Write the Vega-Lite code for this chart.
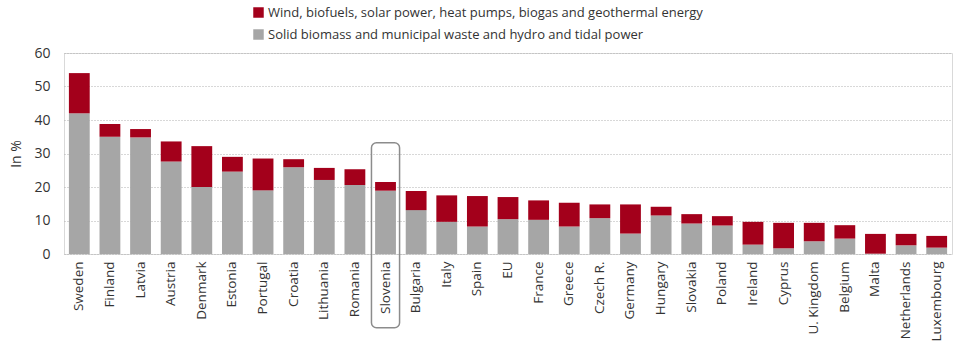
{
  "$schema": "https://vega.github.io/schema/vega-lite/v6.json",
  "width": 888,
  "height": 201,
  "autosize": {"type": "none"},
  "padding": {"left": 64, "top": 53, "right": 8, "bottom": 96},
  "background": "white",
  "config": {
    "font": "Open Sans",
    "view": {"stroke": "#d9d9d9", "strokeWidth": 1},
    "axis": {"labelFont": "Open Sans", "titleFont": "Open Sans", "labelColor": "#333333", "titleColor": "#333333", "labelFontSize": 13, "titleFontSize": 13, "titleFontWeight": "normal"},
    "axisX": {"labelAngle": -90, "ticks": false, "domain": false, "labelPadding": 7, "labelFontSize": 13.5},
    "axisY": {"labelOverlap": false, "ticks": false, "domain": false, "labelPadding": 14, "titlePadding": 10, "labelFontSize": 14, "titleFontSize": 14, "grid": true, "gridColor": "#b0b0b0", "gridDash": [1, 2], "gridWidth": 1},
    "legend": {"labelFont": "Open Sans", "labelFontSize": 13, "labelColor": "#333333", "labelLimit": 0}
  },
  "datasets": {
    "shares": [
      {"country": "Sweden", "type": "Solid biomass and municipal waste and hydro and tidal power", "value": 42.0},
      {"country": "Sweden", "type": "Wind, biofuels, solar power, heat pumps, biogas and geothermal energy", "value": 12.0},
      {"country": "Finland", "type": "Solid biomass and municipal waste and hydro and tidal power", "value": 35.0},
      {"country": "Finland", "type": "Wind, biofuels, solar power, heat pumps, biogas and geothermal energy", "value": 3.8},
      {"country": "Latvia", "type": "Solid biomass and municipal waste and hydro and tidal power", "value": 34.8},
      {"country": "Latvia", "type": "Wind, biofuels, solar power, heat pumps, biogas and geothermal energy", "value": 2.5},
      {"country": "Austria", "type": "Solid biomass and municipal waste and hydro and tidal power", "value": 27.6},
      {"country": "Austria", "type": "Wind, biofuels, solar power, heat pumps, biogas and geothermal energy", "value": 6.0},
      {"country": "Denmark", "type": "Solid biomass and municipal waste and hydro and tidal power", "value": 20.0},
      {"country": "Denmark", "type": "Wind, biofuels, solar power, heat pumps, biogas and geothermal energy", "value": 12.2},
      {"country": "Estonia", "type": "Solid biomass and municipal waste and hydro and tidal power", "value": 24.6},
      {"country": "Estonia", "type": "Wind, biofuels, solar power, heat pumps, biogas and geothermal energy", "value": 4.4},
      {"country": "Portugal", "type": "Solid biomass and municipal waste and hydro and tidal power", "value": 19.0},
      {"country": "Portugal", "type": "Wind, biofuels, solar power, heat pumps, biogas and geothermal energy", "value": 9.5},
      {"country": "Croatia", "type": "Solid biomass and municipal waste and hydro and tidal power", "value": 25.9},
      {"country": "Croatia", "type": "Wind, biofuels, solar power, heat pumps, biogas and geothermal energy", "value": 2.4},
      {"country": "Lithuania", "type": "Solid biomass and municipal waste and hydro and tidal power", "value": 22.1},
      {"country": "Lithuania", "type": "Wind, biofuels, solar power, heat pumps, biogas and geothermal energy", "value": 3.6},
      {"country": "Romania", "type": "Solid biomass and municipal waste and hydro and tidal power", "value": 20.6},
      {"country": "Romania", "type": "Wind, biofuels, solar power, heat pumps, biogas and geothermal energy", "value": 4.7},
      {"country": "Slovenia", "type": "Solid biomass and municipal waste and hydro and tidal power", "value": 18.9},
      {"country": "Slovenia", "type": "Wind, biofuels, solar power, heat pumps, biogas and geothermal energy", "value": 2.6},
      {"country": "Bulgaria", "type": "Solid biomass and municipal waste and hydro and tidal power", "value": 13.1},
      {"country": "Bulgaria", "type": "Wind, biofuels, solar power, heat pumps, biogas and geothermal energy", "value": 5.7},
      {"country": "Italy", "type": "Solid biomass and municipal waste and hydro and tidal power", "value": 9.6},
      {"country": "Italy", "type": "Wind, biofuels, solar power, heat pumps, biogas and geothermal energy", "value": 7.9},
      {"country": "Spain", "type": "Solid biomass and municipal waste and hydro and tidal power", "value": 8.2},
      {"country": "Spain", "type": "Wind, biofuels, solar power, heat pumps, biogas and geothermal energy", "value": 9.1},
      {"country": "EU", "type": "Solid biomass and municipal waste and hydro and tidal power", "value": 10.4},
      {"country": "EU", "type": "Wind, biofuels, solar power, heat pumps, biogas and geothermal energy", "value": 6.6},
      {"country": "France", "type": "Solid biomass and municipal waste and hydro and tidal power", "value": 10.2},
      {"country": "France", "type": "Wind, biofuels, solar power, heat pumps, biogas and geothermal energy", "value": 5.8},
      {"country": "Greece", "type": "Solid biomass and municipal waste and hydro and tidal power", "value": 8.2},
      {"country": "Greece", "type": "Wind, biofuels, solar power, heat pumps, biogas and geothermal energy", "value": 7.1},
      {"country": "Czech R.", "type": "Solid biomass and municipal waste and hydro and tidal power", "value": 10.7},
      {"country": "Czech R.", "type": "Wind, biofuels, solar power, heat pumps, biogas and geothermal energy", "value": 4.1},
      {"country": "Germany", "type": "Solid biomass and municipal waste and hydro and tidal power", "value": 6.1},
      {"country": "Germany", "type": "Wind, biofuels, solar power, heat pumps, biogas and geothermal energy", "value": 8.7},
      {"country": "Hungary", "type": "Solid biomass and municipal waste and hydro and tidal power", "value": 11.5},
      {"country": "Hungary", "type": "Wind, biofuels, solar power, heat pumps, biogas and geothermal energy", "value": 2.6},
      {"country": "Slovakia", "type": "Solid biomass and municipal waste and hydro and tidal power", "value": 9.1},
      {"country": "Slovakia", "type": "Wind, biofuels, solar power, heat pumps, biogas and geothermal energy", "value": 2.8},
      {"country": "Poland", "type": "Solid biomass and municipal waste and hydro and tidal power", "value": 8.5},
      {"country": "Poland", "type": "Wind, biofuels, solar power, heat pumps, biogas and geothermal energy", "value": 2.8},
      {"country": "Ireland", "type": "Solid biomass and municipal waste and hydro and tidal power", "value": 2.8},
      {"country": "Ireland", "type": "Wind, biofuels, solar power, heat pumps, biogas and geothermal energy", "value": 6.8},
      {"country": "Cyprus", "type": "Solid biomass and municipal waste and hydro and tidal power", "value": 1.7},
      {"country": "Cyprus", "type": "Wind, biofuels, solar power, heat pumps, biogas and geothermal energy", "value": 7.6},
      {"country": "U. Kingdom", "type": "Solid biomass and municipal waste and hydro and tidal power", "value": 3.8},
      {"country": "U. Kingdom", "type": "Wind, biofuels, solar power, heat pumps, biogas and geothermal energy", "value": 5.5},
      {"country": "Belgium", "type": "Solid biomass and municipal waste and hydro and tidal power", "value": 4.6},
      {"country": "Belgium", "type": "Wind, biofuels, solar power, heat pumps, biogas and geothermal energy", "value": 4.0},
      {"country": "Malta", "type": "Solid biomass and municipal waste and hydro and tidal power", "value": 0.1},
      {"country": "Malta", "type": "Wind, biofuels, solar power, heat pumps, biogas and geothermal energy", "value": 5.9},
      {"country": "Netherlands", "type": "Solid biomass and municipal waste and hydro and tidal power", "value": 2.6},
      {"country": "Netherlands", "type": "Wind, biofuels, solar power, heat pumps, biogas and geothermal energy", "value": 3.4},
      {"country": "Luxembourg", "type": "Solid biomass and municipal waste and hydro and tidal power", "value": 1.9},
      {"country": "Luxembourg", "type": "Wind, biofuels, solar power, heat pumps, biogas and geothermal energy", "value": 3.5}
    ],
    "highlight": [
      {"country": "Slovenia", "top": 33.2, "bottom": -22}
    ]
  },
  "layer": [
    {
      "data": {"name": "shares"},
      "mark": {"type": "bar"},
      "encoding": {
        "x": {
          "field": "country", "type": "nominal", "sort": null,
          "scale": {"paddingInner": 0.32, "paddingOuter": 0.16},
          "axis": {"title": null}
        },
        "y": {
          "field": "value", "type": "quantitative", "stack": "zero",
          "scale": {"domain": [0, 60], "nice": false},
          "axis": {"title": "In %", "values": [0, 10, 20, 30, 40, 50, 60]}
        },
        "color": {
          "field": "type", "type": "nominal",
          "scale": {
            "domain": ["Wind, biofuels, solar power, heat pumps, biogas and geothermal energy", "Solid biomass and municipal waste and hydro and tidal power"],
            "range": ["#a3001b", "#a6a6a6"]
          },
          "legend": {"title": null, "orient": "none", "legendX": 188, "legendY": -47, "direction": "vertical", "symbolType": "square", "symbolSize": 110, "symbolStrokeWidth": 0, "rowPadding": 8, "labelOffset": 3, "labelLimit": 0}
        },
        "order": {"field": "type", "sort": "ascending"}
      }
    },
    {
      "data": {"name": "highlight"},
      "mark": {"type": "bar", "fillOpacity": 0, "fill": "white", "stroke": "#8c8c8c", "strokeWidth": 1.5, "cornerRadius": 5, "clip": false, "width": {"band": 1.35}},
      "encoding": {
        "x": {"field": "country", "type": "nominal", "sort": null, "axis": {"title": null}},
        "y": {"field": "top", "type": "quantitative", "axis": {"title": "In %", "values": [0, 10, 20, 30, 40, 50, 60]}},
        "y2": {"field": "bottom"}
      }
    }
  ]
}
